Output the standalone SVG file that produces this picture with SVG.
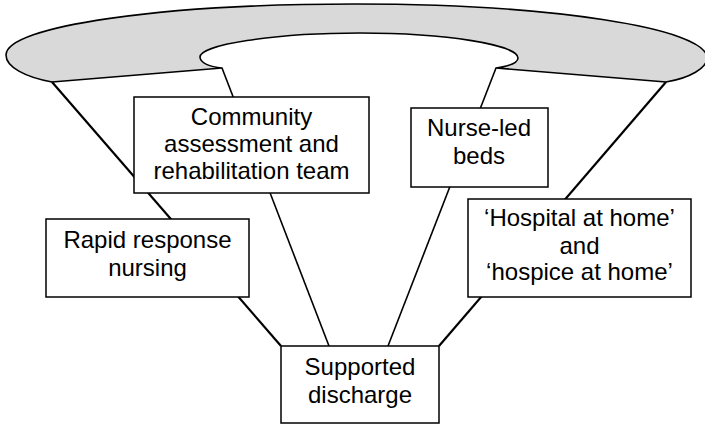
<svg xmlns="http://www.w3.org/2000/svg" width="705" height="425" viewBox="0 0 705 425">
  <style>
    .ring { fill: #d9d9d9; stroke: #000; stroke-width: 1.6; stroke-linejoin: round; }
    .box { fill: #fff; stroke: #000; stroke-width: 1.5; }
    .outer { stroke: #000; stroke-width: 2.2; fill: none; }
    .inner { stroke: #000; stroke-width: 1.6; fill: none; }
    text { font-family: "Liberation Sans", Arial, sans-serif; font-size: 24px; fill: #000; text-anchor: middle; }
  </style>

  <!-- funnel rim: outer edge, lower edge and the inner opening -->
  <g id="rim">
    <path class="ring" d="M52,82 C25,77 6,67 6,55 C6,26 162,4 355,4 C550,4 707,28 707,58 C707,68 690,78 666,82 L496,68 C510,66 518,63 518,58 C518,45 447,33 360,33 C272,33 200,45 200,57 C200,63 210,67 222,68 Z"/>
  </g>

  <!-- funnel sides running down to the outlet box -->
  <g id="connectors">
    <line class="outer" x1="52" y1="82" x2="281" y2="346"/>
    <line class="outer" x1="666" y1="82" x2="439" y2="346"/>
    <line class="inner" x1="222" y1="68" x2="329" y2="346"/>
    <line class="inner" x1="496" y1="68" x2="388" y2="346"/>
  </g>

  <g id="community">
    <rect class="box" x="134" y="97" width="235" height="96"/>
    <text x="251.5" y="125">Community</text>
    <text x="251.5" y="152">assessment and</text>
    <text x="251.5" y="179">rehabilitation team</text>
  </g>

  <g id="nurse-led">
    <rect class="box" x="411" y="108" width="137" height="79"/>
    <text x="479" y="136">Nurse-led</text>
    <text x="479" y="164">beds</text>
  </g>

  <g id="rapid">
    <rect class="box" x="46" y="219" width="203" height="78"/>
    <text x="147.5" y="248">Rapid response</text>
    <text x="147.5" y="276">nursing</text>
  </g>

  <g id="hospital">
    <rect class="box" x="468" y="199" width="223" height="98"/>
    <text x="579.5" y="226">‘Hospital at home’</text>
    <text x="579.5" y="254">and</text>
    <text x="579.5" y="280">‘hospice at home’</text>
  </g>

  <g id="supported">
    <rect class="box" x="281" y="346" width="158" height="77"/>
    <text x="360" y="375">Supported</text>
    <text x="360" y="403">discharge</text>
  </g>
</svg>
